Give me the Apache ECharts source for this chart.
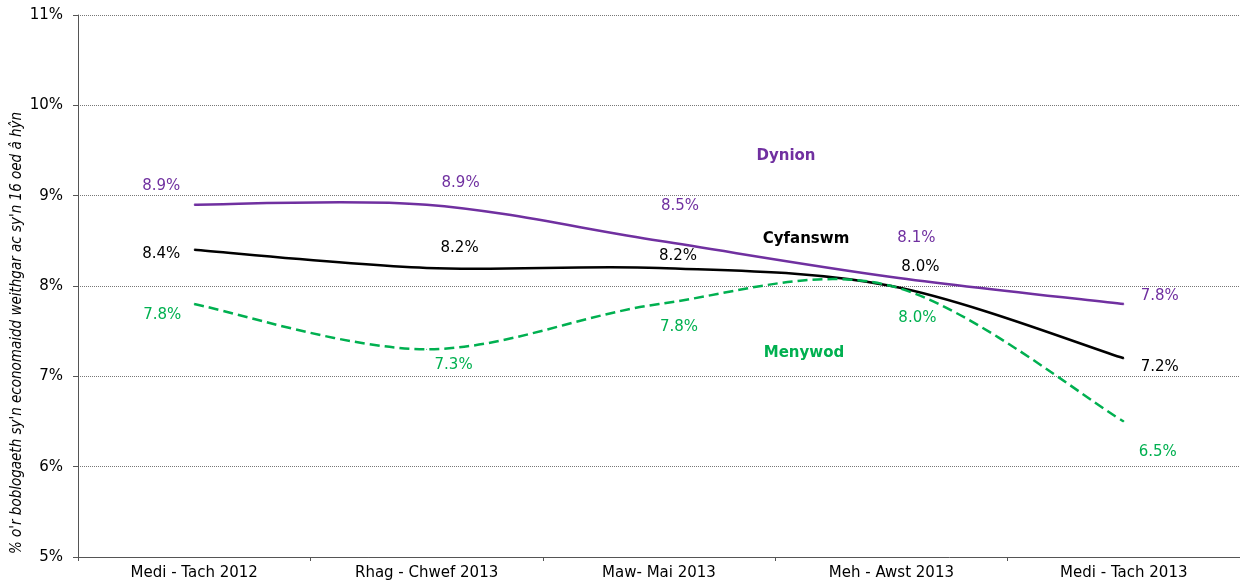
<!DOCTYPE html>
<html>
<head>
<meta charset="utf-8">
<script src="https://cdn.jsdelivr.net/npm/echarts@6/dist/echarts.min.js"></script>
<style>
html,body{margin:0;padding:0;background:#fff;}
#chart{width:1240px;height:584px;}
</style>
</head>
<body>
<div id="chart"></div>
<script>
// data
const categories = ['Medi - Tach 2012', 'Rhag - Chwef 2013', 'Maw- Mai 2013', 'Meh - Awst 2013', 'Medi - Tach 2013']
const dynion = [8.9, 8.9, 8.5, 8.1, 7.8]
const cyfanswm = [8.4, 8.2, 8.2, 8.0, 7.2]
const menywod = [7.8, 7.3, 7.8, 8.0, 6.5]

// label offsets (px) for each point
const dynionOff = [[-33, -19], [34, -22], [21, -35], [25, -39], [36, -8]]
const cyfOff = [[-33, 4], [33, -20], [19, -12], [29, -19], [36, 9]]
const menOff = [[-32, 11], [27, 16], [20, 23], [26, 32], [34, 31]]

const labelFont = '"DejaVu Sans", Verdana, sans-serif'

// points + labels (line itself hidden, drawn by the custom series below)
function labelSeries(name, values, offs, color){
  return {
    name: name,
    type: 'line',
    symbol: 'circle',
    symbolSize: 1,
    showSymbol: true,
    itemStyle: { color: color },
    lineStyle: { opacity: 0 },
    label: {
      show: true,
      position: 'inside',
      color: color,
      fontFamily: labelFont,
      fontSize: 15,
      formatter: p => p.value.toFixed(1) + '%'
    },
    emphasis: { disabled: true },
    data: values.map((v, i) => ({ value: v, label: { offset: offs[i] } }))
  }
}

// smooth curve (excel-like cardinal spline) through the axis coords
function curveSeries(values, color, dashed){
  const n = values.length
  return {
    type: 'custom',
    silent: true,
    data: values.map((v, i) => [i, v]),
    encode: { x: 0, y: 1 },
    renderItem: function(params, api){
      if (params.dataIndex !== 0) return
      const pts = values.map((v, i) => api.coord([i, v]))
      const P = k => pts[Math.max(0, Math.min(n - 1, k))]
      let d = 'M' + pts[0][0] + ' ' + pts[0][1]
      for (let i = 0; i < n - 1; i++) {
        const p0 = P(i - 1), p1 = P(i), p2 = P(i + 1), p3 = P(i + 2)
        const c1x = p1[0] + (p2[0] - p0[0]) / 6
        const c1y = p1[1] + (p2[1] - p0[1]) / 6
        const c2x = p2[0] - (p3[0] - p1[0]) / 6
        const c2y = p2[1] - (p3[1] - p1[1]) / 6
        d += ' C' + c1x + ' ' + c1y + ' ' + c2x + ' ' + c2y + ' ' + p2[0] + ' ' + p2[1]
      }
      return {
        type: 'path',
        shape: { pathData: d },
        style: { stroke: color, fill: null, lineWidth: 2.5, lineDash: dashed ? [10, 5] : null }
      }
    }
  }
}

const chart = echarts.init(document.getElementById('chart'))

const option = {
  animation: false,
  grid: { left: 78, right: 0, top: 15, bottom: 27 },
  xAxis: {
    type: 'category',
    data: categories,
    boundaryGap: true,
    axisLine: { lineStyle: { color: '#555', width: 1 } },
    axisTick: { show: true, length: 4, lineStyle: { color: '#555' } },
    axisLabel: { color: '#000', fontFamily: labelFont, fontSize: 15, margin: 9 }
  },
  yAxis: {
    type: 'value',
    min: 5,
    max: 11,
    interval: 1,
    axisLine: { show: true, lineStyle: { color: '#555', width: 1 } },
    axisTick: { show: true, length: 5, lineStyle: { color: '#555' } },
    axisLabel: {
      color: '#000', fontFamily: labelFont, fontSize: 15, margin: 15,
      formatter: v => v + '%'
    },
    splitLine: { lineStyle: { color: '#777', type: [1, 1], width: 1 } }
  },
  graphic: [
    {
      type: 'text', x: 17, y: 333, rotation: Math.PI / 2,
      style: {
        text: "% o'r boblogaeth sy'n economaidd weithgar ac sy'n 16 oed â hŷn",
        fill: '#000', align: 'center', verticalAlign: 'middle',
        font: 'italic 15px "Liberation Sans Narrow", "DejaVu Sans Condensed", sans-serif'
      }
    },
    {
      type: 'text', x: 786, y: 156,
      style: { text: 'Dynion', fill: '#7030A0', align: 'center', verticalAlign: 'middle',
        font: 'bold 15px "DejaVu Sans", sans-serif' }
    },
    {
      type: 'text', x: 806, y: 239,
      style: { text: 'Cyfanswm', fill: '#000', align: 'center', verticalAlign: 'middle',
        font: 'bold 15px "DejaVu Sans", sans-serif' }
    },
    {
      type: 'text', x: 804, y: 353,
      style: { text: 'Menywod', fill: '#00B050', align: 'center', verticalAlign: 'middle',
        font: 'bold 15px "DejaVu Sans", sans-serif' }
    }
  ],
  series: [
    curveSeries(dynion, '#7030A0', false),
    curveSeries(cyfanswm, '#000000', false),
    curveSeries(menywod, '#00B050', true),
    labelSeries('Dynion', dynion, dynionOff, '#7030A0'),
    labelSeries('Cyfanswm', cyfanswm, cyfOff, '#000000'),
    labelSeries('Menywod', menywod, menOff, '#00B050')
  ]
}

chart.setOption(option)
</script>
</body>
</html>
